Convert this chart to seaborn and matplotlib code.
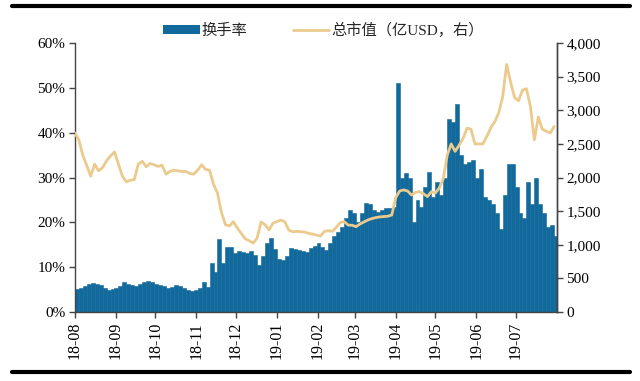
import pandas as pd
import matplotlib.pyplot as plt
import matplotlib.dates as mdates
from matplotlib.lines import Line2D
from matplotlib.patches import Patch
from matplotlib.ticker import FuncFormatter
import seaborn as sns

# sampled every 3 days from 2018-08-01
start_date = '2018-08-01'
step_days = 3

turnover = [
    5.2, 5.4, 5.8, 6.3, 6.5, 6.2, 6.0, 5.3, 4.9, 5.1,
    5.3, 5.9, 6.6, 6.3, 6.0, 5.8, 6.2, 6.8, 7.0, 6.6,
    6.2, 6.0, 5.8, 5.4, 5.6, 6.0, 5.8, 5.3, 4.9, 4.6,
    4.9, 5.3, 6.6, 5.6, 11.0, 9.0, 16.4, 11.0, 14.5, 14.5,
    13.2, 13.6, 13.3, 13.2, 13.6, 12.8, 10.5, 12.5, 15.5, 16.5,
    14.0, 11.8, 11.5, 12.5, 14.2, 14.0, 13.8, 13.7, 13.5, 14.2,
    14.8, 15.3, 14.4, 13.9, 15.5, 17.0, 17.8, 19.0, 21.0, 22.8,
    22.0, 20.0, 22.0, 24.3, 24.0, 22.8, 22.4, 22.8, 23.1, 23.2,
    23.5, 51.0, 30.0, 31.0, 30.0, 20.1, 25.0, 23.5, 28.0, 31.3,
    25.7, 29.0, 26.0, 30.0, 43.0, 42.5, 46.5, 35.0, 33.0, 33.5,
    34.0, 30.0, 32.0, 25.7, 25.0, 24.2, 22.0, 18.5, 26.0, 33.0,
    33.0, 28.0, 22.0, 21.0, 29.0, 24.0, 30.0, 24.0, 22.0, 19.0,
    19.5, 17.0,
]

market_cap = [
    2662, 2560, 2330, 2180, 2020, 2200, 2100, 2150, 2250, 2320,
    2380, 2200, 2020, 1935, 1960, 1970, 2200, 2240, 2160, 2210,
    2190, 2165, 2185, 2050, 2090, 2110, 2100, 2090, 2090, 2060,
    2050, 2110, 2190, 2120, 2110, 1900, 1770, 1480, 1300, 1280,
    1343, 1250, 1170, 1090, 1060, 1025, 1100, 1340, 1300, 1220,
    1320, 1345, 1368, 1343, 1220, 1194, 1200, 1195, 1190, 1170,
    1160, 1144, 1130, 1200, 1210, 1200, 1260, 1330, 1345, 1293,
    1290, 1270, 1310, 1340, 1370, 1390, 1405, 1415, 1420, 1425,
    1443, 1700, 1800, 1816, 1800, 1740, 1780, 1790, 1760, 1716,
    1790, 1770, 1845, 1980, 2330, 2500, 2390, 2480, 2580, 2736,
    2720, 2500, 2500, 2500, 2612, 2740, 2830, 2960, 3200, 3682,
    3420, 3190, 3140, 3300, 3320, 3060, 2560, 2900, 2720, 2690,
    2662, 2760,
]

bar_label = '换手率'
line_label = '总市值（亿USD，右）'

dates = pd.date_range(start_date, periods=len(turnover), freq=f'{step_days}D')
df = pd.DataFrame({'date': dates, 'turnover': turnover, 'cap': market_cap})

sns.set_style('white')
plt.rcParams['font.family'] = ['Liberation Serif', 'Noto Sans CJK SC']

bar_color = '#12699c'
line_color = '#ebcb8d'

fig = plt.figure(figsize=(6.4, 3.81), dpi=100)
ax = fig.add_axes([0.117, 0.181, 0.753, 0.706])
ax2 = ax.twinx()

ax.bar(df['date'], df['turnover'], width=step_days, align='edge',
       color=bar_color, edgecolor=bar_color, linewidth=0.4)
sns.lineplot(data=df, x='date', y='cap', ax=ax2, color=line_color, linewidth=2)

ax.set_xlim(pd.Timestamp('2018-08-01'), pd.Timestamp('2019-08-01'))
ax.set_ylim(0, 60)
ax2.set_ylim(0, 4000)
ax.set_yticks(range(0, 61, 10))
ax2.set_yticks(range(0, 4001, 500))
ax.yaxis.set_major_formatter(FuncFormatter(lambda v, p: f'{v:.0f}%'))
ax2.yaxis.set_major_formatter(FuncFormatter(lambda v, p: f'{v:,.0f}'))

ax.xaxis.set_major_locator(mdates.MonthLocator())
ticks = [t for t in ax.get_xticks() if t < mdates.date2num(pd.Timestamp('2019-08-01'))]
ax.set_xticks(ticks)
ax.set_xticklabels([mdates.num2date(t).strftime('%y-%m') for t in ticks], rotation=90)

for a in (ax, ax2):
    a.set_xlabel('')
    a.set_ylabel('')
    a.spines['top'].set_visible(False)
    for s in a.spines.values():
        s.set_color('#444444')
        s.set_linewidth(1)
    a.tick_params(axis='both', which='major', labelsize=11, length=4, width=1,
                  color='#444444', labelcolor='black', direction='out')
ax.tick_params(axis='x', labelsize=11.5)
ax.tick_params(axis='y', left=True, pad=3)
ax.tick_params(axis='x', bottom=True, pad=3)
ax2.tick_params(axis='y', right=True, pad=3)
ax2.spines['left'].set_visible(False)
ax2.spines['bottom'].set_visible(False)

handles = [Patch(facecolor=bar_color, edgecolor='none'),
           Line2D([], [], color=line_color, linewidth=2)]
fig.legend(handles, [bar_label, line_label], loc='center', ncol=2,
           bbox_to_anchor=(0.505, 0.921), frameon=False, fontsize=11,
           handlelength=2.4, handleheight=0.6, handletextpad=0.1, columnspacing=3.0)

fig.add_artist(Line2D([0.019, 0.984], [0.984, 0.984], color='black', linewidth=3))
fig.add_artist(Line2D([0.019, 0.984], [0.024, 0.024], color='black', linewidth=3))

fig.savefig('out.png', dpi=100)
